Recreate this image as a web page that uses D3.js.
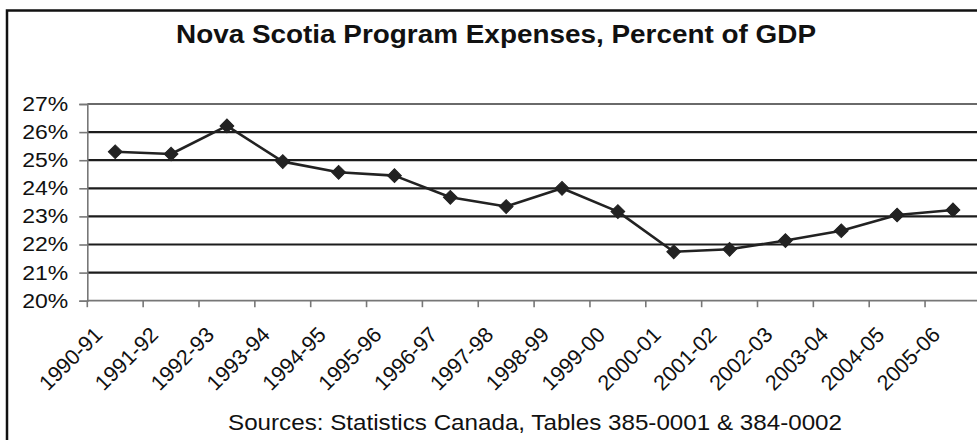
<!DOCTYPE html>
<html>
<head>
<meta charset="utf-8">
<script src="https://cdn.jsdelivr.net/npm/d3@7"></script>
<style>
  html, body { margin: 0; padding: 0; background: #fff; }
  svg { display: block; }
  text { font-family: "Liberation Sans", Arial, sans-serif; fill: #111; }
</style>
</head>
<body>
<svg id="chart" width="977" height="440"></svg>
<script>
// Fiscal years and program expenses as a share of GDP (%)
const years = ["1990-91","1991-92","1992-93","1993-94","1994-95","1995-96","1996-97","1997-98",
               "1998-99","1999-00","2000-01","2001-02","2002-03","2003-04","2004-05","2005-06"];
const expensePct = [25.30, 25.22, 26.22, 24.95, 24.57, 24.45, 23.68, 23.35,
                    24.00, 23.17, 21.74, 21.83, 22.14, 22.49, 23.05, 23.23];
const yTicks = [20, 21, 22, 23, 24, 25, 26, 27];
const titleText = "Nova Scotia Program Expenses, Percent of GDP";
const sourceText = "Sources: Statistics Canada, Tables 385-0001 & 384-0002";

const svg = d3.select("#chart");

// outer frame (right and bottom edges run past the page)
svg.append("rect")
  .attr("x", 7).attr("y", 10.5)
  .attr("width", 1000).attr("height", 460)
  .attr("fill", "#fff")
  .attr("stroke", "#111").attr("stroke-width", 2.5);

const x = d3.scaleBand().domain(years).range([87.3, 980.9]);
const y = d3.scaleLinear().domain([20, 27]).range([300.7, 104]);

// title
svg.append("text")
  .attr("x", 496).attr("y", 43)
  .attr("text-anchor", "middle")
  .attr("font-size", 25).attr("font-weight", "bold")
  .attr("textLength", 640).attr("lengthAdjust", "spacingAndGlyphs")
  .text(titleText);

// horizontal gridlines
svg.append("g").selectAll("line")
  .data(yTicks.filter(v => v > 20))
  .join("line")
  .attr("x1", x.range()[0]).attr("x2", x.range()[1])
  .attr("y1", d => y(d)).attr("y2", d => y(d))
  .attr("stroke", d => d === 27 ? "#6a6a6a" : "#1c1c1c")
  .attr("stroke-width", 2.2);

// y axis
const yAxis = svg.append("g")
  .attr("transform", `translate(${x.range()[0]},0)`)
  .call(d3.axisLeft(y).tickValues(yTicks).tickSize(8).tickPadding(10)
        .tickFormat(d => d + "%"));
yAxis.select(".domain").attr("stroke", "#777").attr("stroke-width", 1.6);
yAxis.selectAll(".tick line").attr("stroke", "#777").attr("stroke-width", 1.6);
yAxis.selectAll(".tick text")
  .attr("font-family", "\"Liberation Sans\", Arial, sans-serif")
  .attr("font-size", 20)
  .attr("fill", "#111")
  .attr("x", -19)
  .attr("dy", "0.32em")
  .attr("textLength", 46).attr("lengthAdjust", "spacingAndGlyphs");

// x axis line and boundary ticks
const xg = svg.append("g");
xg.append("line")
  .attr("x1", x.range()[0]).attr("x2", x.range()[1])
  .attr("y1", y(20)).attr("y2", y(20))
  .attr("stroke", "#777").attr("stroke-width", 1.8);
const edges = years.map(d => x(d)).concat([x.range()[1]]);
xg.selectAll("line.tk")
  .data(edges)
  .join("line").attr("class", "tk")
  .attr("x1", d => d).attr("x2", d => d)
  .attr("y1", y(20)).attr("y2", y(20) + 6.5)
  .attr("stroke", "#777").attr("stroke-width", 1.6);

// rotated category labels
xg.selectAll("text")
  .data(years)
  .join("text")
  .attr("transform", d => `translate(${x(d) + x.bandwidth() / 2 - 11.5},336) rotate(-45)`)
  .attr("text-anchor", "end")
  .attr("font-size", 21.5)
  .text(d => d);

// series line
const cx = d => x(d) + x.bandwidth() / 2;
const pts = years.map((d, i) => [cx(d), y(expensePct[i])]);
svg.append("path")
  .attr("d", d3.line()(pts))
  .attr("fill", "none")
  .attr("stroke", "#222").attr("stroke-width", 2.6)
  .attr("stroke-linejoin", "round");

// diamond markers
svg.append("g").selectAll("path")
  .data(pts)
  .join("path")
  .attr("transform", d => `translate(${d[0]},${d[1]}) rotate(45)`)
  .attr("d", d3.symbol(d3.symbolSquare, 95)())
  .attr("fill", "#222").attr("stroke", "#222").attr("stroke-width", 1);

// source note
svg.append("text")
  .attr("x", 535).attr("y", 430)
  .attr("text-anchor", "middle")
  .attr("font-size", 22)
  .attr("textLength", 614).attr("lengthAdjust", "spacingAndGlyphs")
  .text(sourceText);
</script>
</body>
</html>
